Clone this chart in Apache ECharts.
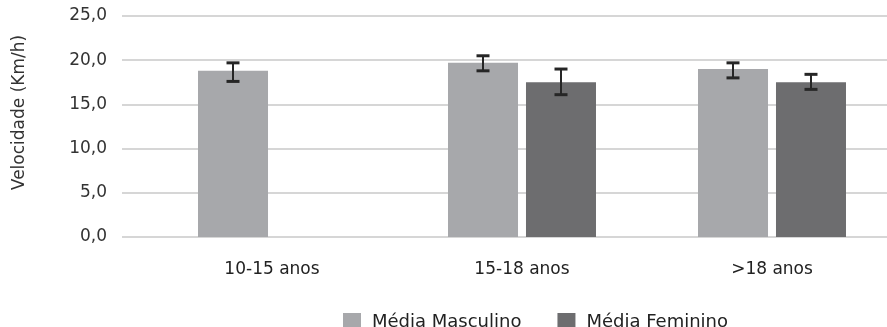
<!DOCTYPE html>
<html>
<head>
<meta charset="utf-8">
<script src="https://cdn.jsdelivr.net/npm/echarts@6/dist/echarts.min.js"></script>
<style>
  html, body { margin: 0; padding: 0; background: #fff; overflow: hidden; }
  /* the source plot runs past the right edge of the picture */
  #chart { width: 897px; height: 327px; }
</style>
</head>
<body>
<div id="chart"></div>
<script>
const categories = ['10-15 anos', '15-18 anos', '>18 anos'];
const seriesNames = ['Média Masculino', 'Média Feminino'];
const mascMean = [18.8, 19.7, 19.0];
const femMean = [null, 17.5, 17.5];
// error bar ends [low, high]
const mascErr = [[17.6, 19.7], [18.8, 20.5], [18.0, 19.7]];
const femErr = [null, [16.1, 19.0], [16.7, 18.4]];
const yTicks = [0, 5, 10, 15, 20, 25];

const FONT = 'DejaVu Sans';
const BAR_W = 70;
const BAR_GAP = 8;
const fmt = (v) => v.toFixed(1).replace('.', ',');

function errSeries(errs, side) {
  const data = [];
  errs.forEach((e, i) => { if (e) data.push([i, e[0], e[1]]); });
  return {
    type: 'custom',
    xAxisIndex: 1,
    yAxisIndex: 1,
    silent: true,
    z: 5,
    data,
    renderItem: (params, api) => {
      const dx = side * (BAR_W + BAR_GAP) / 2;
      const lo = api.coord([api.value(0), api.value(1)]);
      const hi = api.coord([api.value(0), api.value(2)]);
      const x = lo[0] + dx;
      const cap = 6.5;
      const style = { stroke: '#262626', lineWidth: 2 };
      const capStyle = { stroke: '#262626', lineWidth: 3 };
      return {
        type: 'group',
        children: [
          { type: 'line', shape: { x1: x, y1: lo[1], x2: x, y2: hi[1] }, style },
          { type: 'line', shape: { x1: x - cap, y1: hi[1], x2: x + cap, y2: hi[1] }, style: capStyle },
          { type: 'line', shape: { x1: x - cap, y1: lo[1], x2: x + cap, y2: lo[1] }, style: capStyle },
        ],
      };
    },
  };
}

const chart = echarts.init(document.getElementById('chart'), null, { renderer: 'canvas' });
chart.setOption({
  animation: false,
  textStyle: { fontFamily: FONT },
  legend: {
    data: seriesNames,
    left: 338,
    top: 308,
    itemWidth: 18,
    itemHeight: 18,
    itemGap: 36,
    icon: 'rect',
    textStyle: { fontSize: 18, color: '#222', fontFamily: FONT, padding: [0, 0, 0, 6] },
  },
  grid: [
    { left: 122, right: 10, top: 16, height: 221 },
    { left: 147, right: 0, top: 16, height: 221 },
  ],
  xAxis: [
    { type: 'value', gridIndex: 0, show: false, min: 0, max: 1 },
    {
      type: 'category',
      gridIndex: 1,
      data: categories,
      axisLine: { show: false },
      axisTick: { show: false },
      axisLabel: { fontSize: 17, color: '#222', margin: 24, fontFamily: FONT },
    },
  ],
  yAxis: [
    {
      type: 'value',
      gridIndex: 0,
      min: yTicks[0],
      max: yTicks[yTicks.length - 1],
      interval: 5,
      name: 'Velocidade (Km/h)',
      nameLocation: 'middle',
      nameRotate: 90,
      nameGap: 94,
      nameTextStyle: { fontSize: 17, color: '#333', fontFamily: FONT, padding: [0, 0, 0, 28] },
      axisLine: { show: false },
      axisTick: { show: false },
      axisLabel: { fontSize: 17, color: '#333', margin: 15, formatter: fmt },
      splitLine: { lineStyle: { color: '#d6d6d6', width: 2 } },
    },
    {
      type: 'value',
      gridIndex: 1,
      min: yTicks[0],
      max: yTicks[yTicks.length - 1],
      interval: 5,
      show: false,
      splitLine: { show: false },
    },
  ],
  series: [
    {
      name: seriesNames[0],
      type: 'bar',
      xAxisIndex: 1,
      yAxisIndex: 1,
      data: mascMean,
      barWidth: BAR_W,
      barGap: (BAR_GAP / BAR_W * 100).toFixed(1) + '%',
      itemStyle: { color: '#a7a8ab' },
    },
    {
      name: seriesNames[1],
      type: 'bar',
      xAxisIndex: 1,
      yAxisIndex: 1,
      data: femMean,
      barWidth: BAR_W,
      itemStyle: { color: '#6d6d6f' },
    },
    errSeries(mascErr, -1),
    errSeries(femErr, 1),
  ],
});
</script>
</body>
</html>
